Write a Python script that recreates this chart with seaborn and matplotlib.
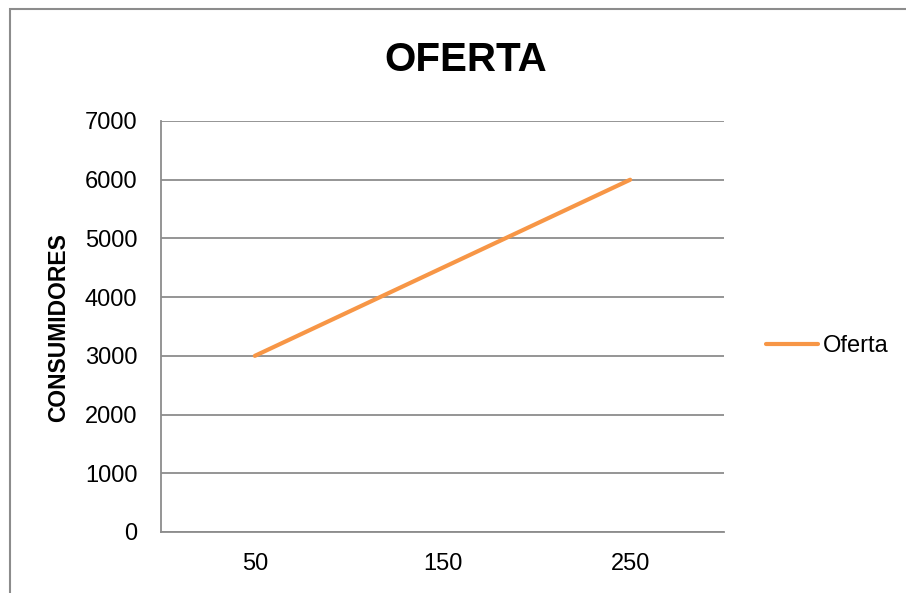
import pandas as pd
import matplotlib.pyplot as plt
import seaborn as sns
from matplotlib.patches import Rectangle

precio = ['50', '150', '250']
consumidores = [3000, 4500, 6000]
y_ticks = [0, 1000, 2000, 3000, 4000, 5000, 6000, 7000]

df = pd.DataFrame({'precio': precio, 'consumidores': consumidores, 'serie': 'Oferta'})

sns.set_style("white")
plt.rcParams['font.family'] = ['Liberation Sans', 'DejaVu Sans']
plt.rcParams['text.color'] = 'black'

fig = plt.figure(figsize=(9.06, 5.93), dpi=100)
ax = fig.add_axes([161 / 906, 1 - 532 / 593, (724 - 161) / 906, (532 - 121) / 593])

# chart border (Excel chart area, cropped on right/bottom)
fig.patches.append(Rectangle((10 / 906, -0.1), 1.2, 1 - 9 / 593 + 0.1,
                             transform=fig.transFigure, fill=False,
                             edgecolor='#8c8c8c', linewidth=1.5))

sns.lineplot(data=df, x='precio', y='consumidores', hue='serie',
             palette=['#F79646'], linewidth=3, ax=ax, sort=False)

ax.set_xlim(-0.5, 2.5)
ax.set_ylim(0, 7000)
ax.set_yticks(y_ticks)
ax.yaxis.grid(True, color='#8c8c8c', linewidth=1.3)
ax.set_axisbelow(True)
for s in ['top', 'right']:
    ax.spines[s].set_visible(False)
for s in ['left', 'bottom']:
    ax.spines[s].set_color('#8c8c8c')
    ax.spines[s].set_linewidth(1.3)
ax.tick_params(axis='both', length=0, labelsize=17, labelcolor='black')
ax.tick_params(axis='y', pad=17)
ax.tick_params(axis='x', pad=15)

ax.set_xlabel('')
ax.set_ylabel('CONSUMIDORES', fontsize=16.5, fontweight='bold', color='black')
ax.yaxis.set_label_coords(-0.162, 0.497)
fig.suptitle('OFERTA', x=466 / 906, y=1 - 60 / 593, va='center',
             fontsize=29, fontweight='bold', color='black')

ax.legend(loc='center left', bbox_to_anchor=(766 / 906, 1 - 346 / 593),
          bbox_transform=fig.transFigure, frameon=False, borderpad=0,
          borderaxespad=0, fontsize=17, handlelength=2.2, handletextpad=0.2,
          title=None)

fig.savefig('out.png', dpi=100)
